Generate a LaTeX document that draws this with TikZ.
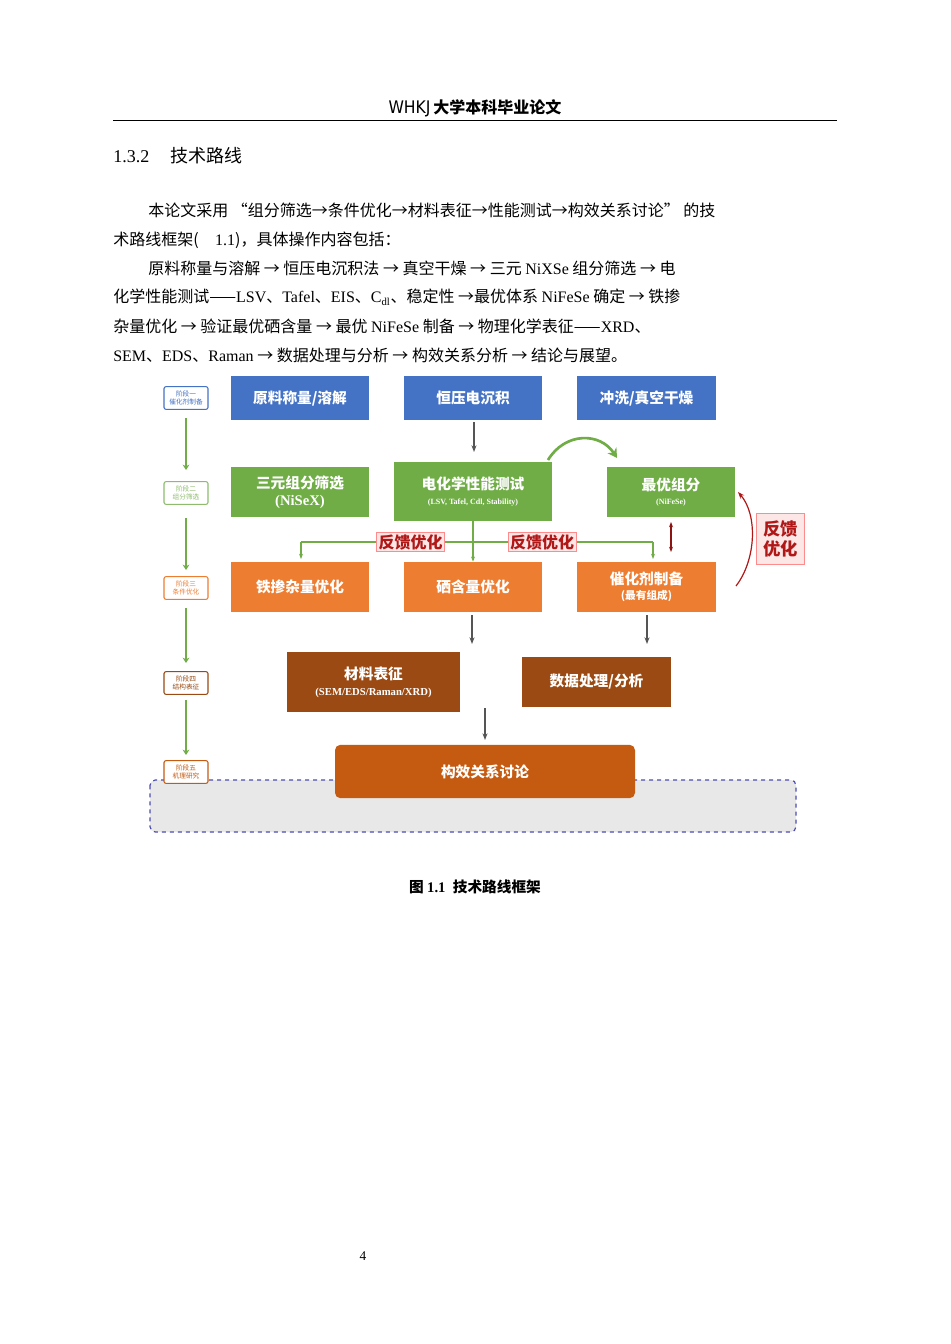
\documentclass[tikz,border=0pt]{standalone}
\usepackage{fontspec}
\setmainfont{Noto Sans CJK SC}
\newfontfamily\rl{Liberation Serif}
\newfontfamily\hd{DejaVu Sans Condensed}
\newcommand\subfnt{\rl\bfseries\fontsize{6}{7}\selectfont}
\usetikzlibrary{arrows.meta}
\definecolor{cblue}{HTML}{4472C4}
\definecolor{cgreen}{HTML}{70AD47}
\definecolor{corange}{HTML}{ED7D31}
\definecolor{cbrown}{HTML}{9A4A12}
\definecolor{cdeep}{HTML}{C55A11}
\definecolor{cred}{HTML}{B01818}
\definecolor{cpink}{HTML}{FDE6E6}
\definecolor{cgray}{HTML}{555555}
\begin{document}
\begin{tikzpicture}[x=0.75pt,y=-0.75pt,
 box/.style={draw=none,fill=#1,text=white,font=\bfseries\fontsize{11}{13}\selectfont,align=center,inner sep=0pt},
 stage/.style={draw=#1,fill=white,text=#1,rounded corners=1.5pt,line width=0.8pt,font=\fontsize{5}{6}\selectfont,align=center,minimum width=33pt,minimum height=17pt,inner sep=0.5pt},
 fb/.style={draw=red!45,fill=cpink,text=cred,font=\bfseries\fontsize{12}{14}\selectfont,inner sep=1.5pt,align=center},
 garr/.style={draw=cgray,line width=0.9pt,-{Stealth[length=5pt]}},
 grarr/.style={draw=cgreen,line width=0.8pt,-{Stealth[length=4pt]}},
 stg/.style={draw=cgreen,line width=2pt,-{Stealth[length=4pt,width=5pt]}},
 body/.style={anchor=base west,inner sep=0pt,font=\fontsize{12}{14}\selectfont}]
\useasboundingbox (0,0) rectangle (950,1344);
\fill[white] (0,0) rectangle (950,1344);
% header
\node[anchor=base] (hdr) at (475,114) {{\hd\fontsize{13}{14}\selectfont WHKJ} {\bfseries\fontsize{12}{14}\selectfont 大学本科毕业论文}};
\draw[line width=0.6pt] (113,120) -- (837,120);
\node[anchor=base west,inner sep=0pt,font=\fontsize{13.5}{15}\selectfont] (sec) at (113,163) {{\rl 1.3.2}\hspace{1.2em}技术路线};
% body
\node[body] (l1) at (148,217) {本论文采用 “组分筛选→条件优化→材料表征→性能测试→构效关系讨论” 的技};
\node[body] (l2) at (113,246) {术路线框架({\rl 图 1.1})，具体操作内容包括：};
\node[body] (l3) at (148,275) {原料称量与溶解 → 恒压电沉积法 → 真空干燥 → 三元 {\rl NiXSe} 组分筛选 → 电};
\node[body] (l4) at (113,303) {化学性能测试——{\rl LSV}、{\rl Tafel}、{\rl EIS}、{\rl C\textsubscript{dl}}、稳定性 →最优体系 {\rl NiFeSe} 确定 → 铁掺};
\node[body] (l5) at (113,332) {杂量优化 → 验证最优硒含量 → 最优 {\rl NiFeSe} 制备 → 物理化学表征——{\rl XRD}、};
\node[body] (l6) at (113,361) {{\rl SEM}、{\rl EDS}、{\rl Raman} → 数据处理与分析 → 构效关系分析 → 结论与展望。};
% dashed region
\draw[dashed,draw=gray!60!blue,fill=gray!18,line width=0.9pt,rounded corners=4pt] (150,780) rectangle (796,832);
% stage labels
\node[stage=cblue] (s1) at (186,398) {阶段一\\催化剂制备};
\node[stage=cgreen!80] (s2) at (186,493) {阶段二\\组分筛选};
\node[stage=corange] (s3) at (186,588) {阶段三\\条件优化};
\node[stage=cbrown] (s4) at (186,683) {阶段四\\结构表征};
\node[stage=cdeep] (s5) at (186,772) {阶段五\\机理研究};
\draw[stg] (186,418) -- (186,470);
\draw[stg] (186,518) -- (186,570);
\draw[stg] (186,608) -- (186,663);
\draw[stg] (186,700) -- (186,755);
% blue row
\node[box=cblue,minimum width=103.5pt,minimum height=33pt] (b1) at (300,398) {原料称量/溶解};
\node[box=cblue,minimum width=103.5pt,minimum height=33pt] (b2) at (473,398) {恒压电沉积};
\node[box=cblue,minimum width=104pt,minimum height=33pt] (b3) at (646.5,398) {冲洗/真空干燥};
% green row
\node[box=cgreen,minimum width=103.5pt,minimum height=37.5pt] (g1) at (300,492) {三元组分筛选\\{\rl\bfseries (NiSeX)}};
\node[box=cgreen,minimum width=118.5pt,minimum height=44pt] (g2) at (473,491.5) {电化学性能测试\\[-2pt]{\subfnt (LSV, Tafel, Cdl, Stability)}};
\node[box=cgreen,minimum width=96pt,minimum height=37.5pt] (g3) at (671,492) {最优组分\\[-2pt]{\subfnt (NiFeSe)}};
% orange row
\node[box=corange,minimum width=103.5pt,minimum height=37.5pt] (o1) at (300,587) {铁掺杂量优化};
\node[box=corange,minimum width=103.5pt,minimum height=37.5pt] (o2) at (473,587) {硒含量优化};
\node[box=corange,minimum width=104pt,minimum height=37.5pt] (o3) at (646.5,587) {催化剂制备\\[-2pt]{\fontsize{8}{9}\selectfont(最有组成)}};
% brown row
\node[box=cbrown,minimum width=130pt,minimum height=45pt] (m1) at (373.5,682) {材料表征\\[-1pt]{\rl\bfseries\fontsize{8}{9}\selectfont (SEM/EDS/Raman/XRD)}};
\node[box=cbrown,minimum width=112pt,minimum height=37.5pt] (m2) at (596.5,682) {数据处理/分析};
\node[box=cdeep,rounded corners=4pt,minimum width=225pt,minimum height=40pt] (k) at (485,771.5) {构效关系讨论};
% gray arrows
\draw[garr] (474,422) -- (474,452);
\draw[garr] (472,615) -- (472,644);
\draw[garr] (647,615) -- (647,644);
\draw[garr] (485,708) -- (485,740);
% green connections
\coordinate (jl) at (301,542);
\coordinate (jr) at (653,542);
\draw[grarr] (g2.south) -- (o2.north);
\draw[draw=cgreen,line width=0.8pt] (jl) -- (jr);
\draw[grarr] (jl) -- (301,559);
\draw[grarr] (jr) -- (653,559);
\node[fb] (f1) at (410.5,542) {反馈优化};
\node[fb] (f2) at (542,542) {反馈优化};
% curved green arrow
\draw[draw=cgreen,line width=2pt,-{Stealth[length=7pt,width=8pt]}] (548,460) .. controls (565,432) and (600,432) .. (617,458);
% red double arrow
\draw[draw=cred!80!black,line width=0.9pt,{Stealth[length=4pt]}-{Stealth[length=4pt]}] (671,522) -- (671,552);
% red curved feedback
\draw[draw=cred,line width=0.9pt,-{Stealth[length=5pt]}] (736,586) .. controls (756,560) and (758,515) .. (738,492);
\node[fb,minimum width=36pt,minimum height=38pt,font=\bfseries\fontsize{13}{15}\selectfont] (f3) at (780.5,538.5) {反馈\\优化};
% caption
\node[font=\bfseries\fontsize{11}{13}\selectfont] (cap) at (475,887) {图 {\rl\bfseries 1.1}\hspace{0.5em}技术路线框架};
\node[font=\rl\fontsize{10}{12}\selectfont] (pg) at (363,1256) {4};
\end{tikzpicture}
\end{document}
